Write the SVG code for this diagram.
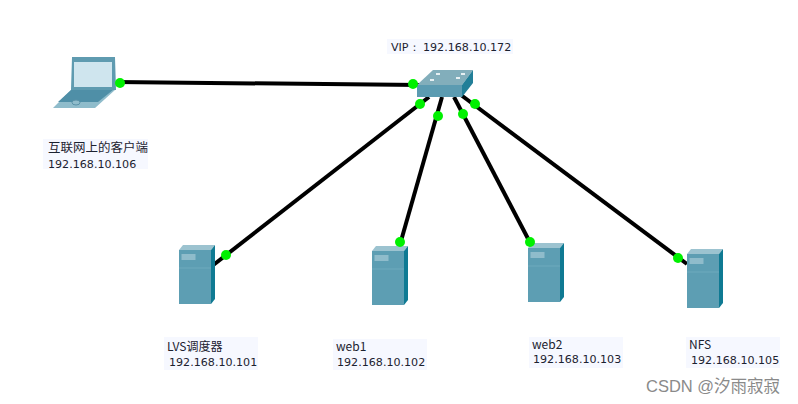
<svg xmlns="http://www.w3.org/2000/svg" width="798" height="404" viewBox="0 0 798 404">
<style>
.t{font-family:"Noto Sans CJK SC","Liberation Sans",sans-serif;font-size:12px;fill:#1c2230}
.n{font-family:"DejaVu Sans","Liberation Sans",sans-serif;font-size:11.1px;fill:#1c2230}
.bg{fill:#f6f8ff}
.l{stroke:#000;stroke-width:4;fill:none}
.d{fill:#00f000}
</style>
<defs>
<g id="srv">
<polygon points="0,5 4,0 36,0 32,5" fill="#9cc3d0"/>
<rect x="0" y="5" width="32" height="54" fill="#5d9eb3"/>
<polygon points="32,5 36,0 36,54 32,59" fill="#0f7a93"/>
<rect x="2.500" y="9" width="14" height="6" fill="#8fbccb"/>
<line x1="0" y1="23" x2="32" y2="23" stroke="#6eaabd" stroke-width="1"/>
</g>
</defs>
<rect width="798" height="404" fill="#fff"/>
<g id="connectors">
<line class="l" x1="116" y1="82" x2="420" y2="85"/>
<line class="l" x1="212" y1="266" x2="429" y2="97"/>
<line class="l" x1="397" y1="255" x2="442" y2="97"/>
<line class="l" x1="535" y1="252" x2="454" y2="97"/>
<line class="l" x1="687" y1="264" x2="461" y2="95"/>
</g>
<g id="client">
<polygon points="71,90 116,90 115,90 95,108 53,108" fill="#8fbccb"/>
<polygon points="71,90 113,90 98,102 58,102" fill="#4f8fa7"/>
<ellipse cx="76" cy="102.500" rx="4" ry="2.500" fill="#8fbccb" stroke="#5b93a8"/>
<path d="M72,57H115L116,90H71Z" fill="#5f9bb0"/>
<rect x="74" y="62" width="38" height="25" fill="#cfe5ee"/>
<rect class="bg" x="43" y="139" width="105" height="30"/>
<text class="t" x="48" y="152" textLength="100" lengthAdjust="spacingAndGlyphs">互联网上的客户端</text>
<text class="n" x="48" y="168">192.168.10.106</text>
<circle class="d" cx="120" cy="83" r="5"/>
</g>
<g id="switch">
<rect class="bg" x="387" y="39" width="126" height="15"/>
<text class="n" x="391" y="51">VIP：</text>
<text class="n" x="423" y="51">192.168.10.172</text>
<polygon points="417,85 433,70 473,70 462,85" fill="#82aebb"/>
<rect x="417" y="85" width="45" height="12" fill="#5b9bb1"/>
<polygon points="462,85 473,70 473,83 462,97" fill="#227f98"/>
<g fill="#e6f0f3"><rect x="436" y="73" width="4" height="2"/><rect x="461" y="73" width="4" height="2"/><rect x="430" y="79" width="4" height="2"/><rect x="456" y="77" width="4" height="2"/></g>
<circle class="d" cx="413" cy="84" r="5"/>
<circle class="d" cx="420" cy="104" r="5"/>
<circle class="d" cx="438" cy="116" r="5"/>
<circle class="d" cx="463" cy="114" r="5"/>
<circle class="d" cx="475" cy="104" r="5"/>
</g>
<g id="lvs">
<use href="#srv" x="179" y="245"/>
<rect class="bg" x="164" y="337" width="94" height="33"/>
<text class="t" x="167" y="351">LVS调度器</text>
<text class="n" x="169" y="366">192.168.10.101</text>
<circle class="d" cx="226" cy="255" r="5"/>
</g>
<g id="web1">
<use href="#srv" x="372" y="246"/>
<rect class="bg" x="333" y="339" width="94" height="31"/>
<text class="t" x="336" y="351">web1</text>
<text class="n" x="337" y="366">192.168.10.102</text>
<circle class="d" cx="400" cy="242" r="5"/>
</g>
<g id="web2">
<use href="#srv" x="528" y="243"/>
<rect class="bg" x="529" y="337" width="94" height="31"/>
<text class="t" x="532" y="349">web2</text>
<text class="n" x="533" y="363">192.168.10.103</text>
<circle class="d" cx="530" cy="242" r="5"/>
</g>
<g id="nfs">
<use href="#srv" x="687" y="249"/>
<rect class="bg" x="686" y="337" width="94" height="31"/>
<text class="t" x="689" y="349">NFS</text>
<text class="n" x="691" y="364">192.168.10.105</text>
<circle class="d" cx="678" cy="258" r="5"/>
</g>
<text x="646" y="392" font-family="'Liberation Sans','Noto Sans CJK SC',sans-serif" font-size="16.500" fill="#8a8a8a">CSDN @汐雨寂寂</text>
</svg>
